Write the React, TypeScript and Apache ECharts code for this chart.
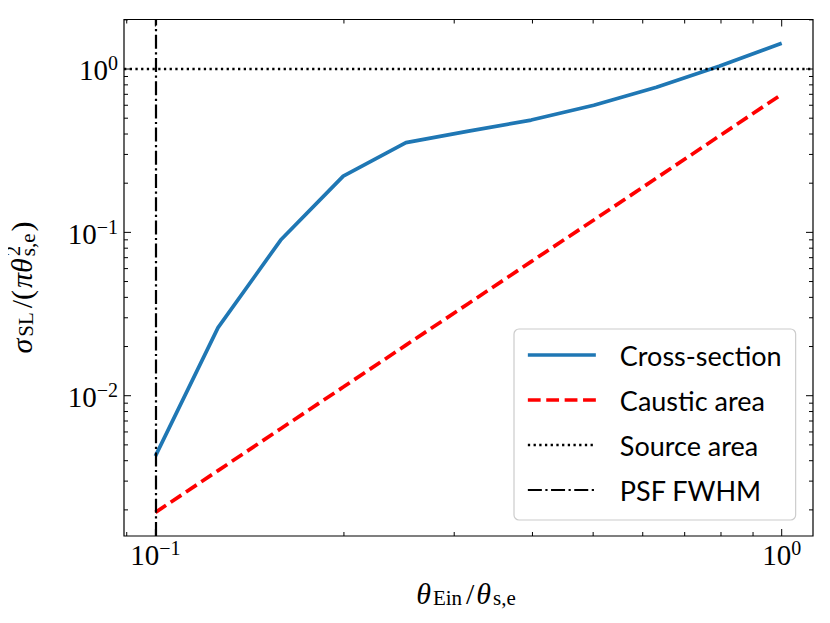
import React, { useEffect, useRef } from 'react';
import * as echarts from 'echarts';

// ---- data ----
const thetaRatio = [0.1, 0.1259, 0.1585, 0.1995, 0.2512, 0.3162, 0.3981, 0.5012, 0.631, 0.7943, 1.0];
const crossSection = [0.00427, 0.0261, 0.0897, 0.221, 0.354, 0.417, 0.487, 0.6, 0.773, 1.04, 1.44];
const causticArea = [0.00193, 0.00348, 0.00628, 0.0113, 0.0204, 0.0367, 0.0662, 0.119, 0.215, 0.388, 0.7];
const sourceAreaLevel = 1;
const psfFwhm = 0.1;
const xRange = [0.0891, 1.122];
const yRange = [0.001384, 2.01];
const xMajorTicks = [0.1, 1];
const xMinorTicks = [0.09, 0.2, 0.3, 0.4, 0.5, 0.6, 0.7, 0.8, 0.9];
const yMajorTicks = [0.01, 0.1, 1];
const yMinorTicks = [
  0.002, 0.003, 0.004, 0.005, 0.006, 0.007, 0.008, 0.009,
  0.02, 0.03, 0.04, 0.05, 0.06, 0.07, 0.08, 0.09,
  0.2, 0.3, 0.4, 0.5, 0.6, 0.7, 0.8, 0.9, 2,
];
const legendNames = ['Cross-section', 'Caustic area', 'Source area', 'PSF FWHM'];

const SERIF = '"Liberation Serif", "DejaVu Serif", serif';
const SANS = 'Lato, "DejaVu Sans", sans-serif';

const measure = (text: string, font: string) => {
  const c = document.createElement('canvas').getContext('2d');
  if (!c) return text.length * 12;
  c.font = font;
  return c.measureText(text).width;
};

const powLabel = (v: number) => {
  const l = Math.log10(v);
  const r = Math.round(l);
  if (Math.abs(l - r) > 1e-6) return '';
  return `{b|10}{s|${r < 0 ? '\u2212' + -r : r}}`;
};

const labelRich = {
  b: { fontFamily: SERIF, fontSize: 29, lineHeight: 31.5, padding: [2.5, 0, 0, 0], verticalAlign: 'top', color: '#000' },
  s: { fontFamily: SERIF, fontSize: 20, lineHeight: 20, verticalAlign: 'top', color: '#000' },
};

const titleRich = {
  i: { fontFamily: SERIF, fontStyle: 'italic', fontSize: 30, lineHeight: 30, verticalAlign: 'top', color: '#000' },
  n: { fontFamily: SERIF, fontSize: 30, lineHeight: 30, padding: [0, 2, 0, 1], verticalAlign: 'top', color: '#000' },
  sub: { fontFamily: SERIF, fontSize: 21, lineHeight: 21, padding: [9.5, 3, 0, 2], verticalAlign: 'top', color: '#000' },
};

export default function App() {
  const ref = useRef<HTMLDivElement>(null);

  useEffect(() => {
    if (!ref.current) return;
    const chart = echarts.init(ref.current, undefined, { renderer: 'svg' });

    // tick data: [x, y, side(0 bottom,1 left,2 top,3 right), length]
    const tickData: number[][] = [];
    xMajorTicks.forEach((v) => { tickData.push([v, 1, 0, 7]); tickData.push([v, 1, 2, 7]); });
    xMinorTicks.forEach((v) => { tickData.push([v, 1, 0, 4]); tickData.push([v, 1, 2, 4]); });
    yMajorTicks.forEach((v) => { tickData.push([0.5, v, 1, 7]); tickData.push([0.5, v, 3, 7]); });
    yMinorTicks.forEach((v) => { tickData.push([0.5, v, 1, 4]); tickData.push([0.5, v, 3, 4]); });

    // y-axis title layout (rotated)
    const fI = `italic 30px ${SERIF}`;
    const fN = `30px ${SERIF}`;
    const fS = `21px ${SERIF}`;
    const w1 = measure('σ', fI) + measure('SL', fS) + 5 + measure('/(', fN) + 3 + measure('πθ', fI);
    const w2 = Math.max(measure('2', fS), measure('s,e', fS));
    const w3 = measure(')', fN);
    const W = w1 + 2 + w2 + 2 + w3;
    const x0 = -W / 2;

    const option: any = {
      animation: false,
      backgroundColor: '#fff',
      grid: {
        left: 124, top: 19.5, width: 689, height: 516.5,
        show: true, borderColor: '#000', borderWidth: 1.2, backgroundColor: 'transparent',
      },
      xAxis: {
        type: 'log', logBase: 10, min: xRange[0], max: xRange[1],
        axisLine: { show: false }, axisTick: { show: false }, splitLine: { show: false },
        axisLabel: { formatter: powLabel, margin: 2, rich: labelRich, interval: 0 },
      },
      yAxis: {
        type: 'log', logBase: 10, min: yRange[0], max: yRange[1],
        axisLine: { show: false }, axisTick: { show: false }, splitLine: { show: false },
        axisLabel: { formatter: powLabel, margin: 6, rich: labelRich, interval: 0 },
      },
      legend: {
        data: legendNames,
        orient: 'vertical', left: 514, top: 329,
        itemWidth: 68, itemHeight: 30, itemGap: 15,
        padding: [11, 14, 15, 12],
        backgroundColor: 'rgba(255,255,255,0.8)', borderColor: '#cccccc', borderWidth: 1.2, borderRadius: 5,
        selectedMode: false,
        itemStyle: { opacity: 0, borderWidth: 0 },
        lineStyle: { width: 'inherit', type: 'inherit', color: 'inherit' },
        textStyle: { fontFamily: SANS, fontSize: 27, color: '#000', lineHeight: 30, padding: [0, 0, 0, 19] },
      },
      graphic: [
        {
          type: 'text', x: 467.5, y: 578, silent: true,
          style: {
            text: '{i|θ}{sub|Ein}{n|/}{i|θ}{sub|s,e}',
            rich: titleRich, align: 'center', verticalAlign: 'top',
          },
        },
        {
          type: 'group', x: 21, y: 287.5, rotation: Math.PI / 2, silent: true,
          children: [
            {
              type: 'text', x: x0, y: -15,
              style: { text: '{i|σ}{sub|SL}{n|/(}{i|πθ}', rich: titleRich, align: 'left', verticalAlign: 'top' },
            },
            {
              type: 'text', x: x0 + w1 + 2, y: -8,
              style: { text: '2', font: fS, fill: '#000', align: 'left', verticalAlign: 'middle' },
            },
            {
              type: 'text', x: x0 + w1 + 2, y: 7,
              style: { text: 's,e', font: fS, fill: '#000', align: 'left', verticalAlign: 'middle' },
            },
            {
              type: 'text', x: x0 + w1 + 2 + w2 + 2, y: 0,
              style: { text: ')', font: fN, fill: '#000', align: 'left', verticalAlign: 'middle' },
            },
          ],
        },
      ],
      series: [
        {
          name: 'Cross-section', type: 'line', symbol: 'none', z: 4,
          data: thetaRatio.map((x, i) => [x, crossSection[i]]),
          itemStyle: { color: '#1f77b4' },
          lineStyle: { color: '#1f77b4', width: 3.7 },
        },
        {
          name: 'Caustic area', type: 'line', symbol: 'none', z: 3,
          data: thetaRatio.map((x, i) => [x, causticArea[i]]),
          itemStyle: { color: '#ff0000' },
          lineStyle: { color: '#ff0000', width: 3.7, type: [12.8, 5.6] },
        },
        {
          name: 'Source area', type: 'line', symbol: 'none', z: 2, data: [],
          itemStyle: { color: '#000' },
          lineStyle: { color: '#000', width: 2.3, type: [2.3, 3.4] },
          markLine: {
            silent: true, symbol: ['none', 'none'], label: { show: false },
            lineStyle: { color: '#000', width: 2.3, type: [2.3, 3.4] },
            data: [{ yAxis: sourceAreaLevel }],
          },
        },
        {
          name: 'PSF FWHM', type: 'line', symbol: 'none', z: 2, data: [],
          itemStyle: { color: '#000' },
          lineStyle: { color: '#000', width: 2.2, type: [14, 3.5, 2.2, 3.5] },
          markLine: {
            silent: true, symbol: ['none', 'none'], label: { show: false },
            lineStyle: { color: '#000', width: 2.2, type: [14, 3.5, 2.2, 3.5] },
            data: [{ xAxis: psfFwhm }],
          },
        },
        {
          name: 'ticks', type: 'custom', silent: true, z: 5,
          data: tickData,
          renderItem: (params: any, api: any) => {
            const cs = params.coordSys;
            const p = api.coord([api.value(0), api.value(1)]);
            const side = api.value(2);
            const len = api.value(3);
            let shape;
            if (side === 0) shape = { x1: p[0], y1: cs.y + cs.height, x2: p[0], y2: cs.y + cs.height - len };
            else if (side === 2) shape = { x1: p[0], y1: cs.y, x2: p[0], y2: cs.y + len };
            else if (side === 1) shape = { x1: cs.x, y1: p[1], x2: cs.x + len, y2: p[1] };
            else shape = { x1: cs.x + cs.width, y1: p[1], x2: cs.x + cs.width - len, y2: p[1] };
            return { type: 'line', shape, style: { stroke: '#000', lineWidth: 1 } };
          },
        },
      ],
    };

    chart.setOption(option);
    return () => chart.dispose();
  }, []);

  return <div ref={ref} style={{ width: 830, height: 623, margin: -8 }} />;
}
